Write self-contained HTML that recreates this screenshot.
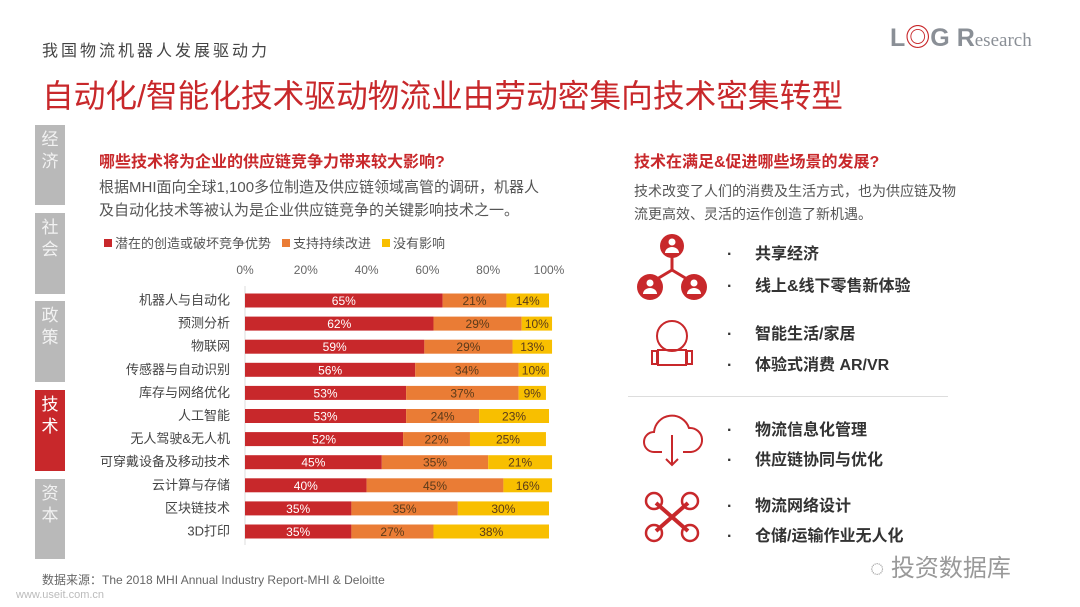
<!DOCTYPE html>
<html><head><meta charset="utf-8">
<style>
body{margin:0;width:1080px;height:607px;background:#fff;position:relative;overflow:hidden;font-family:"Liberation Sans","Noto Sans CJK SC",sans-serif;}
.abs{position:absolute;white-space:nowrap;}
.tab{position:absolute;left:35px;width:30px;background:#b9b9b9;color:#f2f2f2;font-size:17px;line-height:22px;text-align:center;padding-top:4px;box-sizing:border-box;}
.b{font-weight:bold;}
.item{position:absolute;left:727px;font-size:16px;font-weight:bold;color:#333;}
.item span{display:inline-block;width:28px;}
</style></head><body>
<div class="abs" style="left:42px;top:37px;font-size:16px;color:#444;letter-spacing:3px;">我国物流机器人发展驱动力</div>
<div class="abs" style="left:42px;top:71px;font-size:31.7px;color:#c8282b;">自动化/智能化技术驱动物流业由劳动密集向技术密集转型</div>
<div class="abs" style="left:890px;top:18px;font-size:25px;font-weight:bold;color:#8a8f96;">L<span style="color:#c8282b">◎</span>G R<span style="font-weight:normal;font-family:'Liberation Serif',serif;font-size:19px;">esearch</span></div>

<div class="tab" style="top:125px;height:80px;">经<br>济</div>
<div class="tab" style="top:213px;height:81px;">社<br>会</div>
<div class="tab" style="top:301px;height:81px;">政<br>策</div>
<div class="tab" style="top:390px;height:81px;background:#c8282b;color:#fff;">技<br>术</div>
<div class="tab" style="top:479px;height:80px;">资<br>本</div>

<div class="abs b" style="left:99px;top:148px;font-size:16px;color:#c8282b;">哪些技术将为企业的供应链竞争力带来较大影响?</div>
<div class="abs" style="left:99px;top:176px;font-size:15px;line-height:23px;color:#555;">根据MHI面向全球1,100多位制造及供应链领域高管的调研，机器人<br>及自动化技术等被认为是企业供应链竞争的关键影响技术之一。</div>

<svg id="chart" class="abs" style="left:0;top:0" width="600" height="560"></svg>

<div class="abs b" style="left:634px;top:148px;font-size:16px;color:#c8282b;">技术在满足&amp;促进哪些场景的发展?</div>
<div class="abs" style="left:634px;top:180px;font-size:14px;line-height:23px;color:#555;">技术改变了人们的消费及生活方式，也为供应链及物<br>流更高效、灵活的运作创造了新机遇。</div>

<svg class="abs" style="left:630px;top:230px" width="80" height="330">
 <g>
  <line x1="42" y1="22" x2="42" y2="40" stroke="#c8282b" stroke-width="3"/>
  <line x1="42" y1="40" x2="22" y2="52" stroke="#c8282b" stroke-width="3"/>
  <line x1="42" y1="40" x2="62" y2="52" stroke="#c8282b" stroke-width="3"/>
  <g fill="#c8282b"><circle cx="42" cy="16" r="12"/><circle cx="20" cy="57" r="13"/><circle cx="64" cy="57" r="13"/></g>
  <g fill="#fff"><circle cx="42" cy="12" r="3.5"/><path d="M35 23 a7 6 0 0 1 14 0z"/>
  <circle cx="20" cy="53" r="3.5"/><path d="M13 64 a7 6 0 0 1 14 0z"/>
  <circle cx="64" cy="53" r="3.5"/><path d="M57 64 a7 6 0 0 1 14 0z"/></g>
 </g>
 <g fill="none" stroke="#c8282b" stroke-width="2">
  <circle cx="42" cy="106" r="15"/><rect x="28" y="120" width="28" height="15"/>
  <path d="M22 121 h5 v13 h-5 z M57 121 h5 v13 h-5 z"/>
 </g>
 <g fill="none" stroke="#c8282b" stroke-width="2">
  <path d="M32 222 h-8 a10 10 0 0 1 0-20 a18 18 0 0 1 35-4 a12 12 0 0 1 2 24 h-8"/>
  <path d="M42 205 v30 M36 229 l6 6 6-6"/>
 </g>
 <g stroke="#c8282b" fill="none" stroke-width="2.5">
  <circle cx="24" cy="271" r="8"/><circle cx="60" cy="271" r="8"/><circle cx="24" cy="303" r="8"/><circle cx="60" cy="303" r="8"/>
  <path d="M26 273 L58 301 M58 273 L26 301" stroke-width="4"/>
 </g>
</svg>
<div class="item" style="top:240px;"><span>·</span>共享经济</div>
<div class="item" style="top:272px;"><span>·</span>线上&amp;线下零售新体验</div>
<div class="item" style="top:320px;"><span>·</span>智能生活/家居</div>
<div class="item" style="top:351px;"><span>·</span>体验式消费 AR/VR</div>
<div class="abs" style="left:628px;top:396px;width:320px;height:1px;background:#ddd;"></div>
<div class="item" style="top:416px;"><span>·</span>物流信息化管理</div>
<div class="item" style="top:446px;"><span>·</span>供应链协同与优化</div>
<div class="item" style="top:492px;"><span>·</span>物流网络设计</div>
<div class="item" style="top:522px;"><span>·</span>仓储/运输作业无人化</div>

<div class="abs" style="left:870px;top:548px;font-size:24px;color:#999;">◌ 投资数据库</div>
<div class="abs" style="left:42px;top:571px;font-size:12px;color:#666;">数据来源：The 2018 MHI Annual Industry Report-MHI &amp; Deloitte</div>
<div class="abs" style="left:16px;top:589px;font-size:11px;color:#bbb;">www.useit.com.cn</div>

<script>
const categories=["机器人与自动化","预测分析","物联网","传感器与自动识别","库存与网络优化","人工智能","无人驾驶&无人机","可穿戴设备及移动技术","云计算与存储","区块链技术","3D打印"];
const potential=[65,62,59,56,53,53,52,45,40,35,35];
const support=[21,29,29,34,37,24,22,35,45,35,27];
const noImpact=[14,10,13,10,9,23,25,21,16,30,38];
const ticks=[0,20,40,60,80,100];
const seriesNames=["潜在的创造或破坏竞争优势","支持持续改进","没有影响"];
const colors=["#c8282b","#ea7c35","#f8bf00"];
const NS="http://www.w3.org/2000/svg";
const svg=document.getElementById('chart');
const x0=245,x1=549,yTop=293.5,step=23.1,bh=14;
const xs=v=>x0+(x1-x0)*v/100;
const ys=i=>yTop+i*step;
function mk(t,a){const e=document.createElementNS(NS,t);for(const k in a)e.setAttribute(k,a[k]);svg.appendChild(e);return e;}
ticks.forEach(t=>{const e=mk('text',{x:xs(t),y:274,'text-anchor':'middle','font-size':12,fill:'#666'});e.textContent=t+'%';

});
const ax=mk('line',{x1:x0,y1:286,x2:x0,y2:545,stroke:'#ddd'});


let lx=104;
seriesNames.forEach((n,k)=>{const r=mk('rect',{x:lx,y:239,width:8,height:8,fill:colors[k]});


const t=mk('text',{x:lx+11,y:248,'font-size':13,fill:'#555'});t.textContent=n;


lx+=11+n.length*13+11;});
const series=[potential,support,noImpact];
categories.forEach((c,i)=>{
 const y=ys(i);
 const t=mk('text',{x:230,y:y+bh/2+4,'text-anchor':'end','font-size':13,fill:'#444'});t.textContent=c;
 
 
 let acc=0;
 series.forEach((s,k)=>{
  const v=s[i];
  const r=mk('rect',{x:xs(acc),y:y,width:xs(acc+v)-xs(acc),height:bh,fill:colors[k]});
  
  
  const l=mk('text',{x:(xs(acc)+xs(acc+v))/2,y:y+bh/2+4.5,'text-anchor':'middle','font-size':12,fill:k==0?'#fff':'#5a3a1a'});
  l.textContent=v+'%';
  
  
  acc+=v;
 });
});
</script>
</body></html>
